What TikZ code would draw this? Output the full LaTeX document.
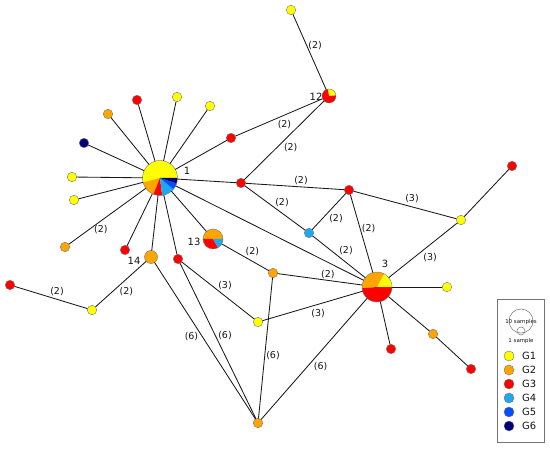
\documentclass[tikz,border=0pt]{standalone}
\usepackage{fontspec}
\setmainfont{DejaVu Sans}
\usepackage{tikz}
\usetikzlibrary{positioning}
\definecolor{gone}{HTML}{FFFF00}
\definecolor{gtwo}{HTML}{FFA500}
\definecolor{gthree}{HTML}{FF0000}
\definecolor{gfour}{HTML}{1EA8F0}
\definecolor{gfive}{HTML}{0050FF}
\definecolor{gsix}{HTML}{00007A}
\colorlet{rim}{black!55}
\colorlet{ink}{black!92}

% pie-shaped haplotype: name, position, radius, colour/start/end
\newcommand\piehap[4]{%
  \node[hap,draw=none,minimum size=2*#3] (#1) at #2 {};
  \foreach \c/\a/\b in {#4}
    \fill[\c] (#1.center) -- ++(\a:#3) arc[start angle=\a,end angle=\b,radius=#3] -- cycle;
  \draw[rim,line width=0.4pt] (#1.center) circle[radius=#3];
}

\begin{document}
\begin{tikzpicture}[x=1bp,y=-1bp,
  hap/.style={circle,draw=rim,line width=0.4pt,inner sep=0pt,outer sep=0pt,minimum size=9.5bp},
  edge/.style={line width=0.85bp,draw=black!90},
  lab/.style={font=\fontsize{9.5}{10}\selectfont,text=ink,inner sep=0pt},
  num/.style={font=\fontsize{10}{12}\selectfont,text=ink,inner sep=0pt}]
\useasboundingbox (0,0) rectangle (550,452);

\piehap{h1}{(160,178)}{17.5bp}{gone/0/195,gtwo/195/248,gthree/248/277,gfour/277/320,gfive/320/342,gsix/342/360}
\piehap{h3}{(377,287)}{15bp}{gone/0/62,gtwo/62/185,gthree/185/360}
\piehap{h12}{(329,96)}{7bp}{gone/5/100,gthree/100/365}
\piehap{h13}{(213,239)}{10bp}{gtwo/0/180,gthree/180/300,gfour/300/360}
\node[hap,fill=gtwo,minimum size=13bp] (h14) at (151,257) {};

\node[num] (t1) at (187,171) {1};
\node[num] (t3) at (385,264) {3};
\node[num] (t12) at (316,97) {12};
\node[num] (t13) at (194,242) {13};
\node[num] (t14) at (134,261) {14};

\node[hap,fill=gone] (ya) at (177,97) {};
\node[hap,fill=gone] (yb) at (210,106) {};
\node[hap,fill=gone] (yc) at (72,177) {};
\node[hap,fill=gone] (yd) at (74,200) {};
\node[hap,fill=gone] (ye) at (291,10) {};
\node[hap,fill=gone] (yf) at (461,220) {};
\node[hap,fill=gone] (yg) at (447,287) {};
\node[hap,fill=gone] (yh) at (258,322) {};
\node[hap,fill=gone] (yi) at (92,310) {};
\node[hap,fill=gtwo] (oa) at (108,114) {};
\node[hap,fill=gtwo] (ob) at (65,247) {};
\node[hap,fill=gtwo] (oc) at (273,273) {};
\node[hap,fill=gtwo] (od) at (258,423) {};
\node[hap,fill=gtwo] (oe) at (433,334) {};
\node[hap,fill=gthree] (ra) at (137,100) {};
\node[hap,fill=gthree] (rb) at (231,138) {};
\node[hap,fill=gthree] (rc) at (241,183) {};
\node[hap,fill=gthree] (rd) at (349,190) {};
\node[hap,fill=gthree] (re) at (512,166) {};
\node[hap,fill=gthree] (rf) at (125,250) {};
\node[hap,fill=gthree] (rg) at (178,259) {};
\node[hap,fill=gthree] (rh) at (391,349) {};
\node[hap,fill=gthree] (ri) at (471,369) {};
\node[hap,fill=gthree] (rj) at (10,285) {};
\node[hap,fill=gfour] (ba) at (309,233) {};
\node[hap,fill=gsix] (na) at (84,143) {};

\foreach \t in {na,oa,ra,ya,yb,rb,rc,yc,yd,rf,h14,rg,h13,h3}
  \draw[edge] (h1) -- (\t);
\draw[edge] (h1) -- node[lab,xshift=-6.5bp,yshift=-13.5bp] {(2)} (ob);
\draw[edge] (ye) -- node[lab,xshift=5.5bp,yshift=6.5bp] {(2)} (h12);
\draw[edge] (rb) -- node[lab,xshift=5.5bp,yshift=-7.5bp] {(2)} (h12);
\draw[edge] (rc) -- node[lab,xshift=6.5bp,yshift=-7bp] {(2)} (h12);
\draw[edge] (rc) -- node[lab,xshift=6bp,yshift=5.5bp] {(2)} (rd);
\draw[edge] (rc) -- node[lab,xshift=7bp,yshift=5bp] {(2)} (ba);
\draw[edge] (rd) -- node[lab,xshift=7bp,yshift=-7.5bp] {(2)} (ba);
\draw[edge] (rd) -- node[lab,xshift=7bp,yshift=5.5bp] {(2)} (h3);
\draw[edge] (rd) -- node[lab,xshift=7bp,yshift=6bp] {(3)} (yf);
\draw[edge] (yf) -- node[lab,xshift=7bp,yshift=-7.5bp] {(3)} (h3);
\draw[edge] (yf) -- (re);
\draw[edge] (ba) -- node[lab,xshift=7bp,yshift=6bp] {(2)} (h3);
\draw[edge] (oc) -- node[lab,xshift=8bp,yshift=5bp] {(2)} (h3);
\draw[edge] (h13) -- node[lab,xshift=7bp,yshift=6bp] {(2)} (oc);
\draw[edge] (yh) -- node[lab,xshift=5.5bp,yshift=-7.5bp] {(3)} (h3);
\draw[edge] (od) -- node[lab,xshift=6.5bp,yshift=-8bp] {(6)} (h3);
\draw[edge] (oc) -- node[lab,xshift=7.5bp,yshift=-8bp] {(6)} (od);
\draw[edge] (rg) -- node[lab,xshift=7bp,yshift=4.5bp] {(3)} (yh);
\draw[edge] (rg) -- node[lab,xshift=7bp,yshift=5bp] {(6)} (od);
\draw[edge] (h14) -- node[lab,xshift=-13.5bp,yshift=4bp] {(6)} (od);
\draw[edge] (h14) -- node[lab,xshift=5.5bp,yshift=-7.5bp] {(2)} (yi);
\draw[edge] (yi) -- node[lab,xshift=6bp,yshift=5.5bp] {(2)} (rj);
\foreach \t in {yg,rh,oe}
  \draw[edge] (h3) -- (\t);
\draw[edge] (oe) -- (ri);

\draw[rim,line width=0.6pt] (497,299) rectangle (544,442);
\draw[rim,line width=0.5pt] (521,321) circle[radius=12bp];
\draw[rim,line width=0.5pt] (521,331) circle[radius=4bp];
\node[font=\fontsize{5.5}{6}\selectfont,text=ink,inner sep=0pt] (ten) at (521,322) {10 samples};
\node[font=\fontsize{5.5}{6}\selectfont,text=ink,inner sep=0pt] (one) at (521,341) {1 sample};
\foreach \c/\t/\y in {gone/G1/356,gtwo/G2/370,gthree/G3/384,gfour/G4/398,gfive/G5/412,gsix/G6/426}{
  \node[hap,fill=\c,minimum size=10bp] (k\t) at (509,\y) {};
  \node[anchor=west,font=\fontsize{10}{12}\selectfont,text=ink,inner sep=0pt] (l\t) at (522,\y) {\t};}
\end{tikzpicture}
\end{document}
